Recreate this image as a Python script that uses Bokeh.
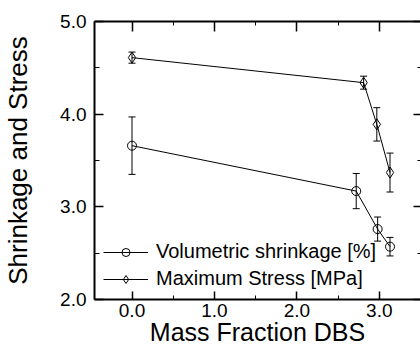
from bokeh.plotting import figure
from bokeh.models import (Range1d, LinearAxis, SingleIntervalTicker, PrintfTickFormatter,
                          CustomJSTickFormatter, Whisker, ColumnDataSource, Legend,
                          LegendItem, TeeHead)
from bokeh.embed import file_html
from bokeh.resources import INLINE

# ---- data ----
shrink_x = [0.0, 2.72, 2.98, 3.13]
shrink_y = [3.66, 3.17, 2.76, 2.57]
shrink_err = [0.31, 0.19, 0.13, 0.10]

stress_x = [0.0, 2.81, 2.97, 3.13]
stress_y = [4.61, 4.34, 3.89, 3.37]
stress_err = [0.06, 0.07, 0.18, 0.21]

x_label = "Mass Fraction DBS"
y_label = "Shrinkage and Stress"
legend_labels = ["Volumetric shrinkage [%]", "Maximum Stress [MPa]"]

FONT = "Liberation Sans"

p = figure(width=420, height=348, output_backend="svg", toolbar_location=None,
           x_range=Range1d(-0.455, 3.50), y_range=Range1d(2.0, 5.0),
           min_border_left=93, min_border_right=0, min_border_top=21, min_border_bottom=0)
p.outline_line_color = None
p.xgrid.visible = False
p.ygrid.visible = False
p.background_fill_color = "white"
p.border_fill_color = "white"

xticker = SingleIntervalTicker(interval=1, num_minor_ticks=2)
yticker = SingleIntervalTicker(interval=1, num_minor_ticks=2)
fmt = PrintfTickFormatter(format="%.1f")
blank = CustomJSTickFormatter(code="return '';")

xa = p.xaxis[0]
xa.ticker = xticker
xa.formatter = fmt
xa.axis_label = x_label
xa.axis_label_text_font = FONT
xa.axis_label_text_font_size = "25px"
xa.axis_label_text_font_style = "normal"
xa.axis_label_text_color = "black"
xa.axis_label_standoff = -2
xa.major_label_text_font = FONT
xa.major_label_text_font_size = "19px"
xa.major_label_text_color = "black"
xa.major_label_standoff = 4
xa.axis_line_width = 2
xa.major_tick_in = 8
xa.major_tick_out = 0
xa.minor_tick_in = 4
xa.minor_tick_out = 0
xa.major_tick_line_width = 1.5

ya = p.yaxis[0]
ya.ticker = yticker
ya.formatter = fmt
ya.axis_label = y_label
ya.axis_label_text_font = FONT
ya.axis_label_text_font_size = "26px"
ya.axis_label_text_font_style = "normal"
ya.axis_label_text_color = "black"
ya.axis_label_standoff = 24
ya.major_label_text_font = FONT
ya.major_label_text_font_size = "19px"
ya.major_label_text_color = "black"
ya.major_label_standoff = 8
ya.axis_line_width = 2
ya.major_tick_in = 9
ya.major_tick_out = 0
ya.minor_tick_in = 5
ya.minor_tick_out = 0
ya.major_tick_line_width = 1.5

top = LinearAxis(ticker=xticker, formatter=blank, major_label_text_font_size="1px",
                 major_label_standoff=0,
                 axis_line_width=2, major_tick_in=10, major_tick_out=0,
                 minor_tick_in=4, minor_tick_out=0, major_tick_line_width=1.5)
p.add_layout(top, "above")
right = LinearAxis(ticker=yticker, formatter=blank, major_label_text_font_size="1px",
                   major_label_standoff=0,
                   axis_line_color=None, major_tick_in=7, major_tick_out=0,
                   minor_tick_in=3, minor_tick_out=0, major_tick_line_width=1.5)
p.add_layout(right, "right")

# error bars
s_src = ColumnDataSource(dict(x=shrink_x, y=shrink_y,
                              upper=[v + e for v, e in zip(shrink_y, shrink_err)],
                              lower=[v - e for v, e in zip(shrink_y, shrink_err)]))
t_src = ColumnDataSource(dict(x=stress_x, y=stress_y,
                              upper=[v + e for v, e in zip(stress_y, stress_err)],
                              lower=[v - e for v, e in zip(stress_y, stress_err)]))
for src in (s_src, t_src):
    w = Whisker(source=src, base="x", upper="upper", lower="lower",
                line_color="black", line_width=1,
                upper_head=TeeHead(size=7, line_color="black", line_width=1),
                lower_head=TeeHead(size=7, line_color="black", line_width=1))
    p.add_layout(w)

l1 = p.line("x", "y", source=s_src, line_color="black", line_width=1)
m1 = p.scatter("x", "y", source=s_src, marker="circle", size=9,
               fill_color=None, line_color="black", line_width=1)
l2 = p.line("x", "y", source=t_src, line_color="black", line_width=1)
m2 = p.scatter("x", "y", source=t_src, marker="diamond", size=11,
               fill_color=None, line_color="black", line_width=1)

legend = Legend(items=[LegendItem(label=legend_labels[0], renderers=[l1, m1]),
                       LegendItem(label=legend_labels[1], renderers=[l2, m2])],
                location=(9, 9), padding=0, margin=0, spacing=4,
                glyph_width=45, glyph_height=20, label_standoff=8,
                label_text_font=FONT, label_text_font_size="20px",
                label_text_color="black",
                background_fill_alpha=0, border_line_color=None)
p.add_layout(legend, "center")

open("out.html", "w").write(file_html(p, INLINE))
